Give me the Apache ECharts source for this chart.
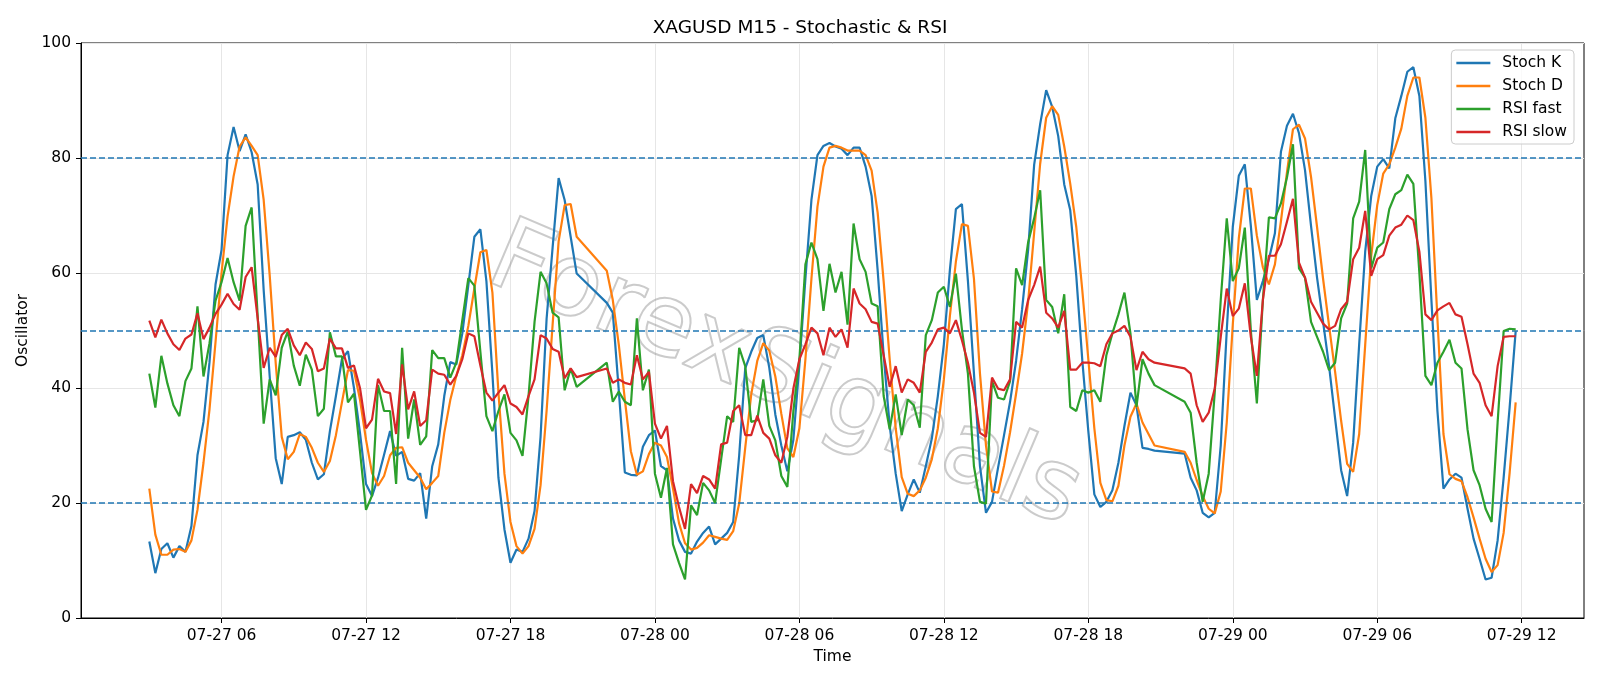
<!DOCTYPE html>
<html>
<head>
<meta charset="utf-8">
<script src="https://cdn.jsdelivr.net/npm/echarts@6/dist/echarts.min.js"></script>
<style>
  html, body { margin: 0; padding: 0; background: #fff; }
  #myChart { width: 1600px; height: 686px; }
</style>
</head>
<body>
<div id="myChart"></div>
<script>
  // M15 bars, feed pauses 21:00-21:45 every day
  const sessions = [
    ['2025-07-27 03:00', '2025-07-27 20:45'],
    ['2025-07-27 22:00', '2025-07-28 20:45'],
    ['2025-07-28 22:00', '2025-07-29 11:45']
  ]

  const stochK = [
    13.3, 7.8, 12.0, 13.0, 10.5, 12.5, 11.5, 16.0, 28.3, 34.1,
    44.5, 58.0, 64.0, 80.5, 85.4, 81.2, 84.1, 81.0, 75.4, 57.0,
    42.0, 27.8, 23.3, 31.5, 31.8, 32.3, 31.0, 27.0, 24.1, 25.0,
    32.5, 38.6, 45.0, 46.4, 40.0, 32.2, 23.3, 21.2, 24.4, 28.4,
    32.5, 28.2, 28.9, 24.2, 23.9, 25.2, 17.3, 26.4, 30.2, 38.6,
    44.5, 44.1, 49.5, 57.9, 66.3, 67.6, 58.6, 42.5, 24.4, 15.4,
    9.6, 11.9, 11.5, 13.8, 18.6, 31.5, 52.0, 64.4, 76.5, 72.7,
    66.3, 59.9,
    54.8, 53.1, 39.5, 25.3, 24.9, 24.8, 29.8, 31.8, 32.6, 26.4,
    25.7, 17.3, 13.5, 11.5, 11.2, 13.3, 14.8, 15.9, 12.8, 13.8,
    14.8, 16.7, 28.3, 43.4, 46.3, 48.7, 49.2, 43.5, 35.4, 30.0,
    25.5, 31.0, 44.0, 59.0, 72.7, 80.5, 82.1, 82.6, 82.0, 81.6,
    80.5, 81.8, 81.8, 78.5, 73.4, 60.5, 45.7, 33.4, 25.1, 18.6,
    21.5, 24.1, 21.8, 26.4, 31.2, 38.6, 47.6, 60.5, 71.1, 72.0,
    58.6, 42.5, 26.4, 18.3, 20.2, 26.1, 31.8, 37.6, 44.7, 53.7,
    64.0, 78.8, 85.9, 91.8, 88.9, 83.8, 75.4, 70.9, 59.5, 44.8,
    32.5, 21.5, 19.3, 20.2, 22.2, 27.0, 33.4, 39.2, 37.0, 29.6,
    29.4, 29.1,
    28.6, 24.4, 22.2, 18.3, 17.5, 18.3, 30.0, 50.0, 68.0, 76.9,
    78.9, 68.2, 55.3, 58.6, 62.4, 66.9, 81.1, 85.6, 87.7, 84.3,
    77.9, 68.2, 59.2, 51.5, 43.8, 34.7, 25.7, 21.2, 30.5, 47.6,
    63.7, 73.4, 78.5, 79.8, 78.2, 86.9, 90.8, 95.0, 95.8, 90.8,
    76.0, 55.3, 36.0, 22.5, 24.1, 25.1, 24.4, 19.0, 13.8, 10.3,
    6.7, 7.0, 13.5, 24.4, 36.7, 49.9
  ]

  const stochD = [
    22.5, 14.5, 11.0, 11.0, 11.9, 12.0, 11.5, 13.5, 18.8, 27.0,
    36.3, 48.0, 60.0, 69.8, 76.8, 82.0, 83.6, 82.1, 80.5, 72.7,
    59.6, 44.3, 31.5, 27.6, 28.9, 32.0, 31.5, 29.6, 27.0, 25.4,
    27.3, 31.8, 37.5, 43.1, 43.0, 38.0, 31.0, 25.2, 23.0, 24.7,
    28.3, 29.6, 29.7, 27.0, 25.7, 24.4, 22.4, 23.5, 24.7, 32.2,
    37.9, 42.1, 45.7, 50.8, 57.3, 63.6, 64.0, 56.6, 39.2, 25.1,
    16.7, 12.5, 11.2, 12.5, 15.5, 23.1, 36.0, 51.0, 65.5, 71.8,
    72.0, 66.3,
    60.4, 55.3, 47.5, 38.0, 29.0, 24.9, 25.5, 28.5, 30.5, 30.0,
    28.0, 22.5, 16.5, 13.0, 11.9, 12.2, 13.1, 14.4, 14.1, 13.8,
    13.6, 15.1, 19.9, 29.6, 38.9, 44.7, 47.8, 46.5, 42.0, 35.5,
    29.5, 28.0, 33.0, 45.0, 59.0, 71.5, 78.5, 81.8, 82.1, 81.8,
    81.3, 81.3, 81.3, 80.5, 77.8, 70.5, 58.5, 45.0, 33.0, 24.5,
    21.6, 21.2, 22.2, 24.4, 27.6, 33.0, 41.5, 52.5, 62.0, 68.5,
    68.2, 59.0, 42.5, 30.0, 22.0, 21.8, 26.5, 32.3, 39.0, 46.0,
    55.0, 67.0, 79.0, 87.0, 89.0, 87.5, 82.0, 75.5, 68.0, 57.0,
    45.0, 33.0, 23.5, 20.5, 20.3, 23.0, 30.0, 35.0, 37.3, 34.0,
    32.0, 30.0,
    28.9, 27.0, 24.0, 21.2, 19.0, 18.2, 22.0, 34.0, 51.0, 66.0,
    74.7, 74.7, 66.5, 61.0, 58.0, 61.5, 69.0, 77.5, 85.0, 85.8,
    83.4, 76.7, 68.0, 59.0, 50.8, 42.8, 34.3, 26.8, 25.4, 32.0,
    47.5, 63.0, 71.8, 77.3, 78.9, 81.8, 85.1, 90.8, 94.0, 94.0,
    87.0, 73.0, 52.0, 32.0, 25.0, 24.2, 23.8, 21.0, 17.5, 13.8,
    10.3, 8.0, 9.2, 14.8, 25.3, 37.5
  ]

  const rsiFast = [
    42.5, 36.6, 45.6, 40.8, 37.0, 35.1, 41.2, 43.4, 54.2, 42.0,
    47.8, 55.2, 58.4, 62.6, 58.4, 55.2, 68.2, 71.4, 52.5, 33.8,
    41.5, 38.7, 47.0, 49.8, 43.9, 40.4, 45.8, 43.2, 35.1, 36.4,
    49.7, 45.5, 45.5, 37.5, 39.0, 29.0, 18.8, 21.3, 40.5, 36.0,
    36.0, 23.3, 47.0, 31.2, 38.0, 30.1, 31.6, 46.6, 45.2, 45.2,
    41.8, 44.4, 51.8, 59.1, 57.8, 46.3, 35.1, 32.5, 36.0, 38.9,
    32.2, 30.9, 28.2, 38.6, 51.5, 60.2, 58.2, 53.1, 52.3, 39.6,
    43.4, 40.2,
    44.4, 37.6, 39.4, 37.6, 37.0, 52.1, 39.6, 43.2, 25.1, 20.9,
    26.1, 12.8, 9.6, 6.7, 19.6, 17.9, 23.5, 22.2, 20.0, 27.6,
    35.1, 34.1, 47.0, 43.8, 34.1, 34.4, 41.5, 33.4, 30.9, 24.7,
    22.8, 36.0, 45.0, 61.5, 65.3, 62.4, 53.4, 61.6, 56.6, 60.2,
    51.0, 68.6, 62.4, 60.2, 54.7, 54.2, 38.6, 32.8, 38.9, 31.8,
    38.0, 37.0, 33.1, 49.2, 51.8, 56.6, 57.6, 54.1, 59.9, 50.2,
    42.5, 26.4, 20.2, 19.9, 41.2, 38.3, 38.0, 41.2, 60.8, 57.9,
    65.3, 69.5, 74.4, 55.3, 54.1, 49.5, 56.3, 36.7, 36.0, 39.6,
    39.2, 39.6, 37.6, 45.7, 49.5, 52.8, 56.6, 49.5, 36.7, 45.0,
    42.5, 40.5,
    37.6, 35.7, 27.0, 20.2, 25.1, 39.2, 55.3, 69.5, 58.6, 60.8,
    67.9, 50.0, 37.3, 55.3, 69.7, 69.5, 72.1, 76.6, 82.4, 60.8,
    59.2, 51.5, 48.9, 46.3, 43.1, 44.4, 52.1, 54.7, 69.5, 72.4,
    81.4, 60.8, 64.4, 65.3, 71.1, 73.7, 74.4, 77.1, 75.5, 60.0,
    42.1, 40.5, 44.4, 46.3, 48.4, 44.4, 43.4, 32.8, 25.7, 23.1,
    19.0, 16.7, 34.0, 49.9, 50.3, 50.2
  ]

  const rsiSlow = [
    51.7, 48.8, 51.9, 49.5, 47.6, 46.6, 48.6, 49.3, 53.0, 48.5,
    50.5, 52.9, 54.5, 56.4, 54.6, 53.6, 59.3, 61.0, 52.1, 43.5,
    47.0, 45.4, 49.2, 50.3, 47.4, 45.7, 47.9, 46.8, 42.9, 43.4,
    48.6, 46.9, 46.9, 43.5, 43.9, 40.0, 33.0, 34.5, 41.6, 39.4,
    39.1, 32.0, 44.1, 36.3, 39.4, 33.4, 34.4, 43.2, 42.5, 42.3,
    40.6, 42.1, 45.0, 49.5, 49.0, 43.9, 39.2, 37.8, 39.2, 40.5,
    37.3, 36.7, 35.4, 38.6, 41.5, 49.2, 48.6, 46.8, 46.3, 41.7,
    43.4, 41.9,
    43.4, 40.9, 41.5, 40.9, 40.6, 45.7, 41.5, 42.8, 33.8, 31.2,
    33.4, 23.8, 19.3, 15.5, 23.3, 21.7, 24.7, 24.1, 22.5, 30.2,
    30.5, 36.0, 37.0, 31.8, 31.8, 35.2, 32.2, 31.2, 28.3, 27.0,
    31.5, 39.9, 45.0, 47.6, 50.5, 49.5, 45.7, 50.5, 48.9, 50.2,
    47.0, 57.3, 54.7, 53.7, 51.5, 51.2, 45.7, 40.2, 43.8, 39.2,
    41.5, 40.9, 39.2, 46.3, 47.9, 50.2, 50.5, 49.5, 51.8, 48.3,
    44.4, 39.2, 32.2, 31.5, 41.8, 39.9, 39.6, 41.5, 51.5, 50.5,
    55.3, 57.9, 61.1, 53.1, 52.1, 50.5, 53.4, 43.2, 43.2, 44.4,
    44.4, 44.3, 43.8, 47.6, 49.5, 50.0, 50.8, 48.9, 43.1, 46.3,
    45.0, 44.4,
    43.4, 42.5, 37.0, 34.1, 35.7, 39.9, 48.9, 57.3, 52.5, 53.8,
    58.2, 48.9, 42.1, 55.3, 63.0, 63.0, 65.0, 68.9, 72.9, 61.8,
    59.2, 55.0, 53.1, 51.2, 50.2, 50.8, 53.7, 55.0, 62.4, 64.4,
    70.8, 59.5, 62.4, 63.1, 66.5, 67.9, 68.4, 70.0, 69.2, 63.7,
    52.8, 51.8, 53.5, 54.2, 54.8, 52.8, 52.4, 47.6, 42.5, 40.9,
    37.0, 35.1, 43.8, 48.9, 49.0, 49.0
  ]

  const levels = [80, 50, 20]
  const timeTicks = [
    '2025-07-27 06:00', '2025-07-27 12:00', '2025-07-27 18:00',
    '2025-07-28 00:00', '2025-07-28 06:00', '2025-07-28 12:00',
    '2025-07-28 18:00', '2025-07-29 00:00', '2025-07-29 06:00',
    '2025-07-29 12:00'
  ]

  const colors = ['#1f77b4', '#ff7f0e', '#2ca02c', '#d62728']
  const font = 'DejaVu Sans'

  function toMs(s) {
    return Date.parse(s.replace(' ', 'T') + ':00Z')
  }

  const times = []
  sessions.forEach(function (s) {
    for (let t = toMs(s[0]); t <= toMs(s[1]); t += 15 * 60 * 1000) times.push(t)
  })

  function pad(n) { return (n < 10 ? '0' : '') + n }
  function fmtTime(v) {
    const d = new Date(+v)
    return pad(d.getUTCMonth() + 1) + '-' + pad(d.getUTCDate()) + ' ' + pad(d.getUTCHours())
  }

  // matplotlib style 5% x margin
  const span = times[times.length - 1] - times[0]
  const xMin = times[0] - span * 0.05
  const xMax = times[times.length - 1] + span * 0.05
  const tickMs = timeTicks.map(toMs)

  function pairs(arr) {
    return arr.map(function (v, i) { return [times[i], v] })
  }

  const names = ['Stoch K', 'Stoch D', 'RSI fast', 'RSI slow']
  const values = [stochK, stochD, rsiFast, rsiSlow]

  const series = names.map(function (name, k) {
    const s = {
      name: name,
      type: 'line',
      symbol: 'none',
      data: pairs(values[k]),
      lineStyle: { width: 2.2, color: colors[k] },
      itemStyle: { color: colors[k] },
      z: 3 + k
    }
    if (k === 0) {
      s.markLine = {
        silent: true,
        symbol: ['none', 'none'],
        label: { show: false },
        lineStyle: { color: '#1f77b4', type: [6, 3], width: 1.6 },
        data: levels.map(function (v) { return { yAxis: v } })
      }
    }
    return s
  })

  const myChart = echarts.init(document.getElementById('myChart'))
  myChart.setOption({
    animation: false,
    backgroundColor: '#fff',
    color: colors,
    title: {
      text: 'XAGUSD M15 - Stochastic & RSI',
      left: 'center',
      top: 14,
      textStyle: { fontFamily: font, fontSize: 18.5, fontWeight: 'normal', color: '#000' }
    },
    legend: {
      orient: 'vertical',
      right: 26,
      top: 50,
      padding: [5, 7, 4, 5],
      itemGap: 7,
      itemWidth: 34,
      itemHeight: 2.4,
      icon: 'rect',
      borderColor: '#cccccc',
      borderWidth: 1,
      borderRadius: 4,
      backgroundColor: 'rgba(255,255,255,0.8)',
      textStyle: { fontFamily: font, fontSize: 15.5, color: '#000', padding: [0, 0, 0, 7] },
      data: names
    },
    graphic: [{
      type: 'text',
      left: 472,
      top: 208,
      rotation: -0.4,
      silent: true,
      z: 1,
      style: {
        text: 'ForexSignals',
        font: '100px "DejaVu Sans"',
        fill: 'rgba(255,255,255,0)',
        stroke: 'rgba(140,140,140,0.45)',
        lineWidth: 2
      }
    }],
    grid: {
      left: 81,
      right: 16,
      top: 43,
      bottom: 68,
      show: true,
      borderColor: '#000',
      borderWidth: 1,
      backgroundColor: 'transparent'
    },
    xAxis: {
      type: 'value',
      min: xMin,
      max: xMax,
      name: 'Time',
      nameLocation: 'middle',
      nameGap: 31,
      nameTextStyle: { fontFamily: font, fontSize: 15.5, color: '#000' },
      axisLine: { show: true, lineStyle: { color: '#000', width: 1 } },
      axisTick: { show: true, length: 5, lineStyle: { color: '#000' }, customValues: tickMs },
      axisLabel: {
        customValues: tickMs,
        margin: 10,
        fontFamily: font,
        fontSize: 15.5,
        color: '#000',
        formatter: fmtTime
      },
      splitLine: { show: true, lineStyle: { color: '#e6e6e6', width: 1 } }
    },
    yAxis: {
      type: 'value',
      min: 0,
      max: 100,
      interval: 20,
      name: 'Oscillator',
      nameLocation: 'middle',
      nameGap: 48,
      nameTextStyle: { fontFamily: font, fontSize: 15.5, color: '#000' },
      axisLine: { show: true, lineStyle: { color: '#000', width: 1 } },
      axisTick: { show: true, length: 5, lineStyle: { color: '#000' } },
      axisLabel: { margin: 10, fontFamily: font, fontSize: 15.5, color: '#000' },
      splitLine: { show: true, lineStyle: { color: '#e6e6e6', width: 1 } }
    },
    series: series
  })
</script>
</body>
</html>
